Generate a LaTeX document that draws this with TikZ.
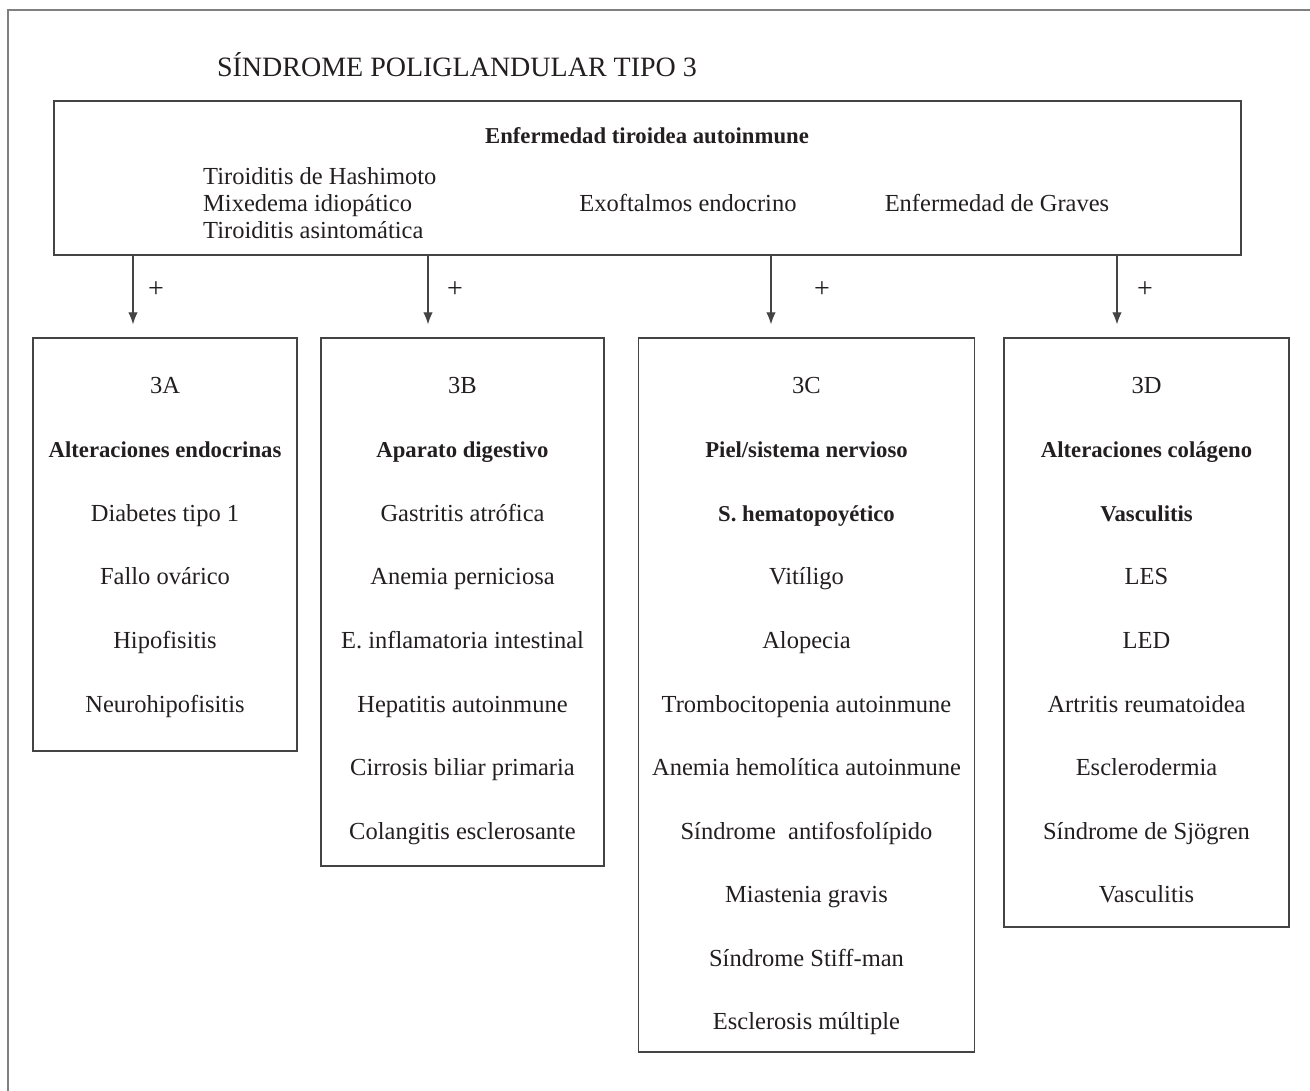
\documentclass[tikz,border=0pt]{standalone}
\usepackage{fontspec}
\setmainfont{Liberation Serif}
\usetikzlibrary{arrows.meta}
\definecolor{ink}{HTML}{231F20}
\definecolor{frame}{HTML}{444444}
\definecolor{outer}{HTML}{808080}
\tikzset{
  box/.style={draw=frame, line width=1.3pt, inner sep=0pt, anchor=center},
  txt/.style={anchor=base, inner sep=0pt, text=ink, font=\fontsize{24.5}{26}\selectfont},
  btxt/.style={anchor=base, inner sep=0pt, text=ink, font=\fontsize{22.7}{26}\selectfont\bfseries},
  plus/.style={inner sep=0pt, text=ink, font=\fontsize{28}{28}\selectfont},
  arr/.style={draw=frame, line width=1.1pt, -{Latex[length=12pt,width=9.5pt]}}
}
\begin{document}
\begin{tikzpicture}[x=1pt,y=-1pt]
\useasboundingbox (0,0) rectangle (1310,1091);
% outer partial frame
\draw[outer, line width=2pt] (8,1091) -- (8,10.5) -- (1310,10.5);

% title
\node[txt, font=\fontsize{28}{28}\selectfont] (title) at (457,77) {SÍNDROME POLIGLANDULAR TIPO 3};

% main box
\node[box, minimum width=1187pt, minimum height=154pt] (main) at (647.5,178) {};
\node[btxt] (mh) at (647,144) {Enfermedad tiroidea autoinmune};
\node[txt, anchor=base west] (m1) at (203,185) {Tiroiditis de Hashimoto};
\node[txt, anchor=base west] (m2) at (203,211.7) {Mixedema idiopático};
\node[txt, anchor=base west] (m3) at (203,238.3) {Tiroiditis asintomática};
\node[txt] (m4) at (688,211.7) {Exoftalmos endocrino};
\node[txt] (m5) at (997,211.7) {Enfermedad de Graves};

% sub boxes
\node[box, minimum width=264pt, minimum height=413pt] (bA) at (165,544.5) {};
\node[box, minimum width=283pt, minimum height=528pt] (bB) at (462.5,602) {};
\node[box, minimum width=336pt, minimum height=714pt] (bC) at (806.5,695) {};
\node[box, minimum width=285pt, minimum height=589pt] (bD) at (1146.5,632.5) {};

% arrow coordinates
\coordinate (xA) at (133,0);
\coordinate (xB) at (428,0);
\coordinate (xC) at (771,0);
\coordinate (xD) at (1117,0);
\draw[arr] (main.south -| xA) -- ([yshift=13pt]bA.north -| xA);
\draw[arr] (main.south -| xB) -- ([yshift=13pt]bB.north -| xB);
\draw[arr] (main.south -| xC) -- ([yshift=13pt]bC.north -| xC);
\draw[arr] (main.south -| xD) -- ([yshift=13pt]bD.north -| xD);
\node[plus] (pA) at (156,290) {+};
\node[plus] (pB) at (455,290) {+};
\node[plus] (pC) at (822,290) {+};
\node[plus] (pD) at (1145,290) {+};

% box A
\node[txt] (a0) at (165,393.5) {3A};
\node[btxt] (a1) at (165,457) {Alteraciones endocrinas};
\node[txt] (a2) at (165,521) {Diabetes tipo 1};
\node[txt] (a3) at (165,584.5) {Fallo ovárico};
\node[txt] (a4) at (165,648) {Hipofisitis};
\node[txt] (a5) at (165,712) {Neurohipofisitis};

% box B
\node[txt] (b0) at (462.5,393.5) {3B};
\node[btxt] (b1) at (462.5,457) {Aparato digestivo};
\node[txt] (b2) at (462.5,521) {Gastritis atrófica};
\node[txt] (b3) at (462.5,584.5) {Anemia perniciosa};
\node[txt] (b4) at (462.5,648) {E. inflamatoria intestinal};
\node[txt] (b5) at (462.5,712) {Hepatitis autoinmune};
\node[txt] (b6) at (462.5,775.5) {Cirrosis biliar primaria};
\node[txt] (b7) at (462.5,839) {Colangitis esclerosante};

% box C
\node[txt] (c0) at (806.5,393.5) {3C};
\node[btxt] (c1) at (806.5,457) {Piel/sistema nervioso};
\node[btxt] (c2) at (806.5,521) {S. hematopoyético};
\node[txt] (c3) at (806.5,584.5) {Vitíligo};
\node[txt] (c4) at (806.5,648) {Alopecia};
\node[txt] (c5) at (806.5,712) {Trombocitopenia autoinmune};
\node[txt] (c6) at (806.5,775.5) {Anemia hemolítica autoinmune};
\node[txt] (c7) at (806.5,839) {Síndrome\ \ antifosfolípido};
\node[txt] (c8) at (806.5,902.5) {Miastenia gravis};
\node[txt] (c9) at (806.5,966) {Síndrome Stiff-man};
\node[txt] (c10) at (806.5,1029.5) {Esclerosis múltiple};

% box D
\node[txt] (d0) at (1146.5,393.5) {3D};
\node[btxt] (d1) at (1146.5,457) {Alteraciones colágeno};
\node[btxt] (d2) at (1146.5,521) {Vasculitis};
\node[txt] (d3) at (1146.5,584.5) {LES};
\node[txt] (d4) at (1146.5,648) {LED};
\node[txt] (d5) at (1146.5,712) {Artritis reumatoidea};
\node[txt] (d6) at (1146.5,775.5) {Esclerodermia};
\node[txt] (d7) at (1146.5,839) {Síndrome de Sjögren};
\node[txt] (d8) at (1146.5,902.5) {Vasculitis};
\end{tikzpicture}
\end{document}
